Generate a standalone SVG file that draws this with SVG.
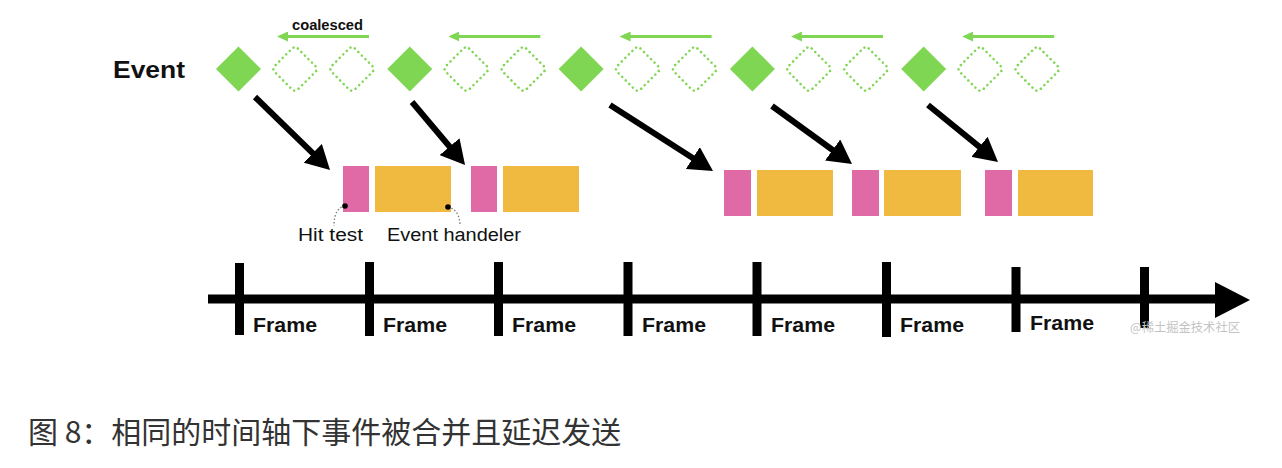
<svg xmlns="http://www.w3.org/2000/svg" width="1282" height="468" viewBox="0 0 1282 468">
<style>
.lbl{font-family:"Liberation Sans",Arial,sans-serif;fill:#111;}
.bold{font-weight:bold;}
.solid{fill:#7FD653;}
.hollow{fill:none;stroke:#7FD653;stroke-width:2.6;stroke-dasharray:0 5;stroke-linecap:round;}
.coal{stroke:#7FD653;stroke-width:3;fill:none;}
.ev{stroke:#000;stroke-width:6;fill:none;}
.pink{fill:#E06AA6;}
.orange{fill:#F0BA40;}
.tick{fill:#000;}
.lead{fill:none;stroke:#777;stroke-width:1.3;stroke-dasharray:1.5 2;}
</style>
<defs>
<marker id="ah" markerUnits="userSpaceOnUse" markerWidth="24" markerHeight="26" viewBox="0 0 24 26" refX="12" refY="13" orient="auto">
<path d="M0,0 L24,13 L0,26 Z" fill="#000"/>
</marker>
<marker id="gh" markerUnits="userSpaceOnUse" markerWidth="11" markerHeight="10" viewBox="0 0 11 10" refX="5" refY="5" orient="auto">
<path d="M0,0 L11,5 L0,10 Z" fill="#7FD653"/>
</marker>
<g id="ev-group">
<polygon class="solid" points="0,-22.5 22.5,0 0,22.5 -22.5,0"/>
<rect class="hollow" x="-16.5" y="-16.5" width="33" height="33" rx="4" transform="translate(56.5,0) rotate(45)"/>
<rect class="hollow" x="-16.5" y="-16.5" width="33" height="33" rx="4" transform="translate(113.5,0) rotate(45)"/>
<line class="coal" x1="130.5" y1="-32.5" x2="44.5" y2="-32.5" marker-end="url(#gh)"/>
</g>
</defs>

<g id="event-label"><text class="lbl bold" x="113" y="78" font-size="23" textLength="72" lengthAdjust="spacingAndGlyphs">Event</text></g>
<g id="coalesced-label"><text class="lbl bold" x="292" y="30" font-size="14.5" textLength="71" lengthAdjust="spacingAndGlyphs">coalesced</text></g>

<g id="events">
<g id="event1"><use href="#ev-group" x="238.5" y="69"/></g>
<g id="event2"><use href="#ev-group" x="409.8" y="69"/></g>
<g id="event3"><use href="#ev-group" x="581.1" y="69"/></g>
<g id="event4"><use href="#ev-group" x="752.4" y="69"/></g>
<g id="event5"><use href="#ev-group" x="923.7" y="69"/></g>
</g>

<g id="blocks">
<g id="block1"><rect class="pink" x="343" y="166" width="26" height="46"/><rect class="orange" x="375" y="166" width="76" height="46"/></g>
<g id="block2"><rect class="pink" x="471" y="166" width="26" height="46"/><rect class="orange" x="503" y="166" width="76" height="46"/></g>
<g id="block3"><rect class="pink" x="724" y="170" width="27" height="46"/><rect class="orange" x="757" y="170" width="76" height="46"/></g>
<g id="block4"><rect class="pink" x="852" y="170" width="27" height="46"/><rect class="orange" x="884" y="170" width="77" height="46"/></g>
<g id="block5"><rect class="pink" x="985" y="170" width="27" height="46"/><rect class="orange" x="1018" y="170" width="75" height="46"/></g>
</g>

<g id="annotations">
<g id="hit-test">
<path class="lead" d="M345,206 Q334,208 334,226"/>
<circle cx="345" cy="206" r="2.8" fill="#000"/>
<text class="lbl" x="298" y="241" font-size="18" textLength="65" lengthAdjust="spacingAndGlyphs">Hit test</text>
</g>
<g id="event-handler">
<path class="lead" d="M448,207 Q460,210 460,226"/>
<circle cx="448" cy="207" r="2.8" fill="#000"/>
<text class="lbl" x="387" y="241" font-size="18" textLength="134" lengthAdjust="spacingAndGlyphs">Event handeler</text>
</g>
</g>

<g id="connectors">
<line class="ev" x1="255" y1="97" x2="321.4" y2="161.6" marker-end="url(#ah)"/>
<line class="ev" x1="412" y1="102" x2="457.3" y2="155.8" marker-end="url(#ah)"/>
<line class="ev" x1="610" y1="105" x2="702.9" y2="164.5" marker-end="url(#ah)"/>
<line class="ev" x1="772" y1="106" x2="842.3" y2="157" marker-end="url(#ah)"/>
<line class="ev" x1="928" y1="105" x2="988.7" y2="154.4" marker-end="url(#ah)"/>
</g>

<g id="timeline">
<rect x="208" y="294.5" width="1010" height="9" fill="#000"/>
<polygon points="1215,282 1250,300 1215,318" fill="#000"/>
<rect class="tick" x="235" y="263" width="9" height="72"/>
<rect class="tick" x="365" y="262" width="9" height="74"/>
<rect class="tick" x="494" y="262" width="9" height="74"/>
<rect class="tick" x="623.5" y="262" width="9" height="74"/>
<rect class="tick" x="752.5" y="262" width="9" height="74"/>
<rect class="tick" x="882" y="262" width="9" height="75"/>
<rect class="tick" x="1011.5" y="267" width="9" height="65"/>
<rect class="tick" x="1140" y="267" width="9" height="61"/>
</g>

<g id="frames">
<text class="lbl bold" x="253" y="332" font-size="20" textLength="64" lengthAdjust="spacingAndGlyphs">Frame</text>
<text class="lbl bold" x="383" y="332" font-size="20" textLength="64" lengthAdjust="spacingAndGlyphs">Frame</text>
<text class="lbl bold" x="512" y="332" font-size="20" textLength="64" lengthAdjust="spacingAndGlyphs">Frame</text>
<text class="lbl bold" x="642" y="332" font-size="20" textLength="64" lengthAdjust="spacingAndGlyphs">Frame</text>
<text class="lbl bold" x="771" y="332" font-size="20" textLength="64" lengthAdjust="spacingAndGlyphs">Frame</text>
<text class="lbl bold" x="900" y="332" font-size="20" textLength="64" lengthAdjust="spacingAndGlyphs">Frame</text>
<text class="lbl bold" x="1030" y="330" font-size="20" textLength="64" lengthAdjust="spacingAndGlyphs">Frame</text>
</g>

<g id="watermark"><text x="1130" y="332" font-size="12.5" fill="#c4c4c4" font-family="'Noto Sans CJK SC',sans-serif" textLength="110" lengthAdjust="spacingAndGlyphs">@稀土掘金技术社区</text></g>

<g id="caption"><text x="28" y="443" font-size="30" fill="#333" font-family="'Noto Sans CJK SC','Noto Sans',sans-serif">图 8：相同的时间轴下事件被合并且延迟发送</text></g>
</svg>
